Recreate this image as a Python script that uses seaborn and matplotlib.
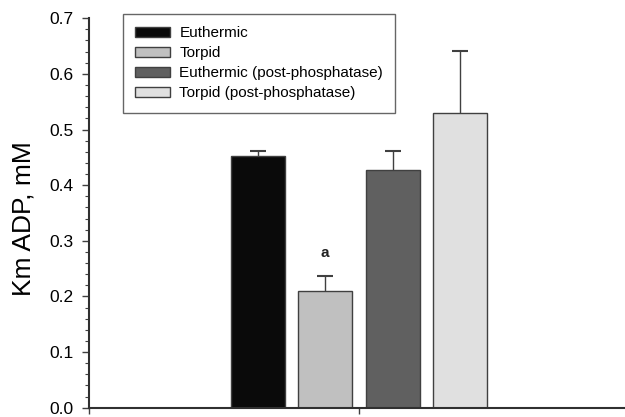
import matplotlib
matplotlib.use("Agg")
import matplotlib.pyplot as plt
from matplotlib.ticker import MultipleLocator
from matplotlib.patches import Patch
import seaborn as sns
import pandas as pd

conditions = ["Euthermic", "Torpid", "Euthermic (post-phosphatase)", "Torpid (post-phosphatase)"]
km_adp = [0.453, 0.210, 0.428, 0.530]
sem = [0.009, 0.026, 0.034, 0.111]
colors = ["#0a0a0a", "#c0c0c0", "#606060", "#e0e0e0"]
sig_labels = ["", "a", "", ""]

sns.set_style("ticks")
plt.rcParams["font.family"] = ["Liberation Sans", "DejaVu Sans"]
plt.rcParams["text.color"] = "black"
plt.rcParams["ytick.labelcolor"] = "black"

df = pd.DataFrame({"group": [""] * 4, "condition": conditions, "km": km_adp})

fig = plt.figure(figsize=(6.25, 4.17), dpi=100)
ax = fig.add_axes([0.1424, 0.0223, 0.8576, 0.934])

sns.barplot(data=df, x="group", y="km", hue="condition", hue_order=conditions,
            palette=colors, width=0.5, gap=0.2, errorbar=None,
            edgecolor="#404040", linewidth=1.0, ax=ax, legend=False, saturation=1)

bars = [p for p in ax.patches][:4]
for bar, val, err, lab in zip(bars, km_adp, sem, sig_labels):
    cx = bar.get_x() + bar.get_width() / 2
    ax.vlines(cx, val, val + err, color="#404040", linewidth=1.0, zorder=1)
    ax.plot([cx - 0.015, cx + 0.015], [val + err, val + err], color="#404040",
            linewidth=1.5, solid_capstyle="butt", zorder=1)
    if lab:
        ax.text(cx, val + err + 0.03, lab, ha="center", va="bottom", fontsize=11,
                fontweight="bold", color="#222222")

ax.set_xlim(-0.5, 0.493)
ax.set_ylim(0, 0.7)
ax.yaxis.set_minor_locator(MultipleLocator(0.02))
ax.set_yticks([0, 0.1, 0.2, 0.3, 0.4, 0.5, 0.6, 0.7])
ax.set_yticklabels(["0.0", "0.1", "0.2", "0.3", "0.4", "0.5", "0.6", "0.7"], fontsize=12.5)
ax.set_xticks([-0.5, 0])
ax.set_xticklabels(["", ""])
ax.tick_params(axis="y", which="major", length=5, width=1, color="#404040", pad=6)
ax.tick_params(axis="y", which="minor", length=3, width=0.8, color="#404040")
ax.tick_params(axis="x", length=4, width=1, color="#404040")
ax.set_xlabel("")
ax.set_ylabel("Km ADP, mM", fontsize=19, color="black")
ax.yaxis.set_label_coords(-0.099, 0.486)
for s in ["top", "right"]:
    ax.spines[s].set_visible(False)
for s in ["left", "bottom"]:
    ax.spines[s].set_color("#303030")
    ax.spines[s].set_linewidth(1.5)

handles = [Patch(facecolor=c, edgecolor="#404040", linewidth=1.0) for c in colors]
leg = ax.legend(handles, conditions, loc="upper left", bbox_to_anchor=(0.063, 1.011),
                fontsize=11, frameon=True, fancybox=False, handlelength=2.3,
                handleheight=0.65, labelspacing=0.4, borderpad=0.8, handletextpad=0.6,
                borderaxespad=0)
leg.get_frame().set_edgecolor("#404040")
leg.get_frame().set_linewidth(1.0)

fig.savefig("out.png", dpi=100)
